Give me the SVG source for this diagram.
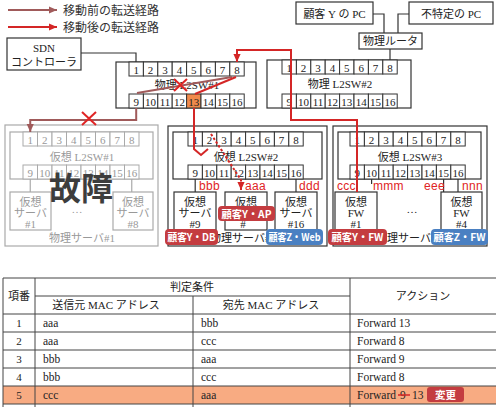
<svg xmlns="http://www.w3.org/2000/svg" width="496" height="407" viewBox="0 0 496 407">
<defs>
<marker id="ahb" viewBox="0 0 10 10" refX="10" refY="5" markerWidth="9" markerHeight="8" markerUnits="userSpaceOnUse" orient="auto"><path d="M0,0.5 L10,5 L0,9.5 z" fill="#a05a5a"/></marker>
<marker id="ahr" viewBox="0 0 10 10" refX="10" refY="5" markerWidth="9" markerHeight="8" markerUnits="userSpaceOnUse" orient="auto"><path d="M0,0.5 L10,5 L0,9.5 z" fill="#d42626"/></marker>
</defs>
<style>
.bx{fill:#fff;stroke:#333;stroke-width:1.2}
.pt{fill:#fff;stroke:#333;stroke-width:1}
.gx{fill:#fff;stroke:#aaa;stroke-width:1.2}
.gp{fill:#fff;stroke:#aaa;stroke-width:1}
.ln{fill:none;stroke:#333;stroke-width:1.2}
.gl{fill:none;stroke:#aaa;stroke-width:1.2}
.t{font-family:"Liberation Serif","Noto Sans CJK JP",serif;font-size:11px;fill:#222;text-anchor:middle}
.tg{font-family:"Liberation Serif","Noto Sans CJK JP",serif;font-size:11px;fill:#999;text-anchor:middle}
.tl{font-family:"Liberation Serif","Noto Sans CJK JP",serif;font-size:11.5px;fill:#222}
.lg{font-family:"Noto Sans CJK JP",sans-serif;font-size:12px;fill:#333}
.mac{font-family:"Liberation Sans",sans-serif;font-size:12px;fill:#e02424;letter-spacing:0.3px}
.bd{font-family:"Noto Sans CJK JP","Liberation Sans",sans-serif;font-size:10.5px;fill:#fff;text-anchor:middle;font-weight:bold}
.rb{fill:#c43c40}
.bb{fill:#4a80c2}
.red{fill:none;stroke:#d42626;stroke-width:2}
.brn{fill:none;stroke:#a05a5a;stroke-width:2}
.tb{stroke:#444;stroke-width:1}
</style>

<g id="legend">
<line x1="8" y1="10" x2="57" y2="10" class="brn" marker-end="url(#ahb)"/>
<text x="63" y="14.5" class="lg">移動前の転送経路</text>
<line x1="8" y1="27" x2="57" y2="27" class="red" marker-end="url(#ahr)"/>
<text x="63" y="31.5" class="lg">移動後の転送経路</text>
</g>

<g id="sdn">
<rect x="7" y="38" width="74" height="32" class="bx"/>
<text x="44" y="52" class="t">SDN</text>
<text x="44" y="66" class="t">コントローラ</text>
</g>

<g id="pc-y">
<rect x="296" y="2" width="77" height="22" class="bx"/>
<text x="334.5" y="17.5" class="t">顧客 Y の PC</text>
</g>
<g id="pc-any">
<rect x="409" y="2" width="84" height="22" class="bx"/>
<text x="451" y="17.5" class="t">不特定の PC</text>
</g>
<g id="router">
<rect x="359" y="33" width="63" height="16" class="bx"/>
<text x="390.5" y="45" class="t">物理ルータ</text>
</g>

<g id="pl2sw1">
<rect x="116" y="62" width="140" height="46" class="bx"/>
<text x="187" y="89" class="t">物理 L2SW#1</text>
<g>
<rect x="129" y="62" width="14.4" height="14" class="pt"/><rect x="143.4" y="62" width="14.4" height="14" class="pt"/><rect x="157.8" y="62" width="14.4" height="14" class="pt"/><rect x="172.2" y="62" width="14.4" height="14" class="pt"/><rect x="186.6" y="62" width="14.4" height="14" class="pt"/><rect x="201" y="62" width="14.4" height="14" class="pt"/><rect x="215.4" y="62" width="14.4" height="14" class="pt"/><rect x="229.8" y="62" width="14.4" height="14" class="pt"/>
<rect x="129" y="94" width="14.4" height="14" class="pt"/><rect x="143.4" y="94" width="14.4" height="14" class="pt"/><rect x="157.8" y="94" width="14.4" height="14" class="pt"/><rect x="172.2" y="94" width="14.4" height="14" class="pt"/><rect x="186.6" y="94" width="14.4" height="14" class="pt" style="fill:#f08a4c"/><rect x="201" y="94" width="14.4" height="14" class="pt"/><rect x="215.4" y="94" width="14.4" height="14" class="pt"/><rect x="229.8" y="94" width="14.4" height="14" class="pt"/>
</g>
<text x="136.2" y="73.5" class="t">1</text><text x="150.6" y="73.5" class="t">2</text><text x="165" y="73.5" class="t">3</text><text x="179.4" y="73.5" class="t">4</text><text x="193.8" y="73.5" class="t">5</text><text x="208.2" y="73.5" class="t">6</text><text x="222.6" y="73.5" class="t">7</text><text x="237" y="73.5" class="t">8</text>
<text x="136.2" y="105.5" class="t">9</text><text x="150.6" y="105.5" class="t">10</text><text x="165" y="105.5" class="t">11</text><text x="179.4" y="105.5" class="t">12</text><text x="193.8" y="105.5" class="t">13</text><text x="208.2" y="105.5" class="t">14</text><text x="222.6" y="105.5" class="t">15</text><text x="237" y="105.5" class="t">16</text>
</g>

<g id="pl2sw2">
<rect x="267" y="60" width="144" height="48" class="bx"/>
<text x="340" y="88" class="t">物理 L2SW#2</text>
<g>
<rect x="282" y="60" width="14.4" height="14" class="pt"/><rect x="296.4" y="60" width="14.4" height="14" class="pt"/><rect x="310.8" y="60" width="14.4" height="14" class="pt"/><rect x="325.2" y="60" width="14.4" height="14" class="pt"/><rect x="339.6" y="60" width="14.4" height="14" class="pt"/><rect x="354" y="60" width="14.4" height="14" class="pt"/><rect x="368.4" y="60" width="14.4" height="14" class="pt"/><rect x="382.8" y="60" width="14.4" height="14" class="pt"/>
<rect x="282" y="94" width="14.4" height="14" class="pt"/><rect x="296.4" y="94" width="14.4" height="14" class="pt"/><rect x="310.8" y="94" width="14.4" height="14" class="pt"/><rect x="325.2" y="94" width="14.4" height="14" class="pt"/><rect x="339.6" y="94" width="14.4" height="14" class="pt"/><rect x="354" y="94" width="14.4" height="14" class="pt"/><rect x="368.4" y="94" width="14.4" height="14" class="pt"/><rect x="382.8" y="94" width="14.4" height="14" class="pt"/>
</g>
<text x="289.2" y="71.5" class="t">1</text><text x="303.6" y="71.5" class="t">2</text><text x="318" y="71.5" class="t">3</text><text x="332.4" y="71.5" class="t">4</text><text x="346.8" y="71.5" class="t">5</text><text x="361.2" y="71.5" class="t">6</text><text x="375.6" y="71.5" class="t">7</text><text x="390" y="71.5" class="t">8</text>
<text x="289.2" y="105.5" class="t">9</text><text x="303.6" y="105.5" class="t">10</text><text x="318" y="105.5" class="t">11</text><text x="332.4" y="105.5" class="t">12</text><text x="346.8" y="105.5" class="t">13</text><text x="361.2" y="105.5" class="t">14</text><text x="375.6" y="105.5" class="t">15</text><text x="390" y="105.5" class="t">16</text>
</g>

<g id="pserver1">
<rect x="5" y="125" width="153" height="121" class="gx"/>
<rect x="10" y="132" width="143" height="47" class="gx"/>
<text x="82" y="161" class="tg">仮想 L2SW#1</text>
<g>
<rect x="23" y="132" width="14.5" height="14" class="gp"/><rect x="37.5" y="132" width="14.5" height="14" class="gp"/><rect x="52" y="132" width="14.5" height="14" class="gp"/><rect x="66.5" y="132" width="14.5" height="14" class="gp"/><rect x="81" y="132" width="14.5" height="14" class="gp"/><rect x="95.5" y="132" width="14.5" height="14" class="gp"/><rect x="110" y="132" width="14.5" height="14" class="gp"/><rect x="124.5" y="132" width="14.5" height="14" class="gp"/>
<rect x="23" y="165" width="14.5" height="14" class="gp"/><rect x="37.5" y="165" width="14.5" height="14" class="gp"/><rect x="52" y="165" width="14.5" height="14" class="gp"/><rect x="66.5" y="165" width="14.5" height="14" class="gp"/><rect x="81" y="165" width="14.5" height="14" class="gp"/><rect x="95.5" y="165" width="14.5" height="14" class="gp"/><rect x="110" y="165" width="14.5" height="14" class="gp"/><rect x="124.5" y="165" width="14.5" height="14" class="gp"/>
</g>
<text x="30.25" y="143.5" class="tg">1</text><text x="44.75" y="143.5" class="tg">2</text><text x="59.25" y="143.5" class="tg">3</text><text x="73.75" y="143.5" class="tg">4</text><text x="88.25" y="143.5" class="tg">5</text><text x="102.75" y="143.5" class="tg">6</text><text x="117.25" y="143.5" class="tg">7</text><text x="131.75" y="143.5" class="tg">8</text>
<text x="30.25" y="176.5" class="tg">9</text><text x="44.75" y="176.5" class="tg">10</text><text x="59.25" y="176.5" class="tg">11</text><text x="73.75" y="176.5" class="tg">12</text><text x="88.25" y="176.5" class="tg">13</text><text x="102.75" y="176.5" class="tg">14</text><text x="117.25" y="176.5" class="tg">15</text><text x="131.75" y="176.5" class="tg">16</text>
<line x1="30.25" y1="179" x2="30.25" y2="192" class="gl"/>
<line x1="131.75" y1="179" x2="131.75" y2="192" class="gl"/>
<rect x="10" y="192" width="41" height="38" class="gx"/>
<text x="30.5" y="206" class="tg">仮想</text><text x="30.5" y="217" class="tg">サーバ</text><text x="30.5" y="228" class="tg">#1</text>
<rect x="113" y="192" width="40" height="38" class="gx"/>
<text x="133" y="206" class="tg">仮想</text><text x="133" y="217" class="tg">サーバ</text><text x="133" y="228" class="tg">#8</text>
<text x="77" y="213" class="tg">…</text>
<text x="82" y="242" class="tg">物理サーバ#1</text>
<text x="81" y="200" style="font-family:'Noto Sans CJK JP',sans-serif;font-size:32px;font-weight:bold;fill:#3d3d3d;text-anchor:middle">故障</text>
</g>

<g id="pserver2">
<rect x="168" y="126" width="159" height="120" class="bx"/>
<rect x="173" y="132" width="149" height="47" class="bx"/>
<text x="246" y="161" class="t">仮想 L2SW#2</text>
<g>
<rect x="188" y="132" width="14.4" height="14" class="pt"/><rect x="202.4" y="132" width="14.4" height="14" class="pt"/><rect x="216.8" y="132" width="14.4" height="14" class="pt"/><rect x="231.2" y="132" width="14.4" height="14" class="pt"/><rect x="245.6" y="132" width="14.4" height="14" class="pt"/><rect x="260" y="132" width="14.4" height="14" class="pt"/><rect x="274.4" y="132" width="14.4" height="14" class="pt"/><rect x="288.8" y="132" width="14.4" height="14" class="pt"/>
<rect x="188" y="165" width="14.4" height="14" class="pt"/><rect x="202.4" y="165" width="14.4" height="14" class="pt"/><rect x="216.8" y="165" width="14.4" height="14" class="pt"/><rect x="231.2" y="165" width="14.4" height="14" class="pt"/><rect x="245.6" y="165" width="14.4" height="14" class="pt"/><rect x="260" y="165" width="14.4" height="14" class="pt"/><rect x="274.4" y="165" width="14.4" height="14" class="pt"/><rect x="288.8" y="165" width="14.4" height="14" class="pt"/>
</g>
<text x="195.2" y="143.5" class="t">1</text><text x="209.6" y="143.5" class="t">2</text><text x="224" y="143.5" class="t">3</text><text x="238.4" y="143.5" class="t">4</text><text x="252.8" y="143.5" class="t">5</text><text x="267.2" y="143.5" class="t">6</text><text x="281.6" y="143.5" class="t">7</text><text x="296" y="143.5" class="t">8</text>
<text x="195.2" y="176.5" class="t">9</text><text x="209.6" y="176.5" class="t">10</text><text x="224" y="176.5" class="t">11</text><text x="238.4" y="176.5" class="t">12</text><text x="252.8" y="176.5" class="t">13</text><text x="267.2" y="176.5" class="t">14</text><text x="281.6" y="176.5" class="t">15</text><text x="296" y="176.5" class="t">16</text>
<line x1="195.2" y1="179" x2="195.2" y2="192" class="ln"/>
<line x1="296" y1="179" x2="296" y2="192" class="ln"/>
<text x="243" y="242" class="t">物理サーバ#2</text>
</g>
<g id="vs9">
<rect x="174" y="192" width="42" height="38" class="bx"/>
<text x="195" y="206" class="t">仮想</text><text x="195" y="217" class="t">サーバ</text><text x="195" y="228" class="t">#9</text>
</g>
<g id="vsap">
<rect x="225" y="192" width="42" height="38" class="bx"/>
<text x="246" y="206" class="t">仮想</text><text x="243" y="228" class="t">#</text>
</g>
<g id="vs16">
<rect x="275" y="192" width="42" height="38" class="bx"/>
<text x="296" y="206" class="t">仮想</text><text x="296" y="217" class="t">サーバ</text><text x="296" y="228" class="t">#16</text>
</g>

<g id="pserver3">
<rect x="333" y="126" width="154" height="120" class="bx"/>
<rect x="338" y="132" width="143" height="47" class="bx"/>
<text x="410" y="161" class="t">仮想 L2SW#3</text>
<g>
<rect x="350" y="132" width="14.4" height="14" class="pt"/><rect x="364.4" y="132" width="14.4" height="14" class="pt"/><rect x="378.8" y="132" width="14.4" height="14" class="pt"/><rect x="393.2" y="132" width="14.4" height="14" class="pt"/><rect x="407.6" y="132" width="14.4" height="14" class="pt"/><rect x="422" y="132" width="14.4" height="14" class="pt"/><rect x="436.4" y="132" width="14.4" height="14" class="pt"/><rect x="450.8" y="132" width="14.4" height="14" class="pt"/>
<rect x="350" y="165" width="14.4" height="14" class="pt"/><rect x="364.4" y="165" width="14.4" height="14" class="pt"/><rect x="378.8" y="165" width="14.4" height="14" class="pt"/><rect x="393.2" y="165" width="14.4" height="14" class="pt"/><rect x="407.6" y="165" width="14.4" height="14" class="pt"/><rect x="422" y="165" width="14.4" height="14" class="pt"/><rect x="436.4" y="165" width="14.4" height="14" class="pt"/><rect x="450.8" y="165" width="14.4" height="14" class="pt"/>
</g>
<text x="357.2" y="143.5" class="t">1</text><text x="371.6" y="143.5" class="t">2</text><text x="386" y="143.5" class="t">3</text><text x="400.4" y="143.5" class="t">4</text><text x="414.8" y="143.5" class="t">5</text><text x="429.2" y="143.5" class="t">6</text><text x="443.6" y="143.5" class="t">7</text><text x="458" y="143.5" class="t">8</text>
<text x="357.2" y="176.5" class="t">9</text><text x="371.6" y="176.5" class="t">10</text><text x="386" y="176.5" class="t">11</text><text x="400.4" y="176.5" class="t">12</text><text x="414.8" y="176.5" class="t">13</text><text x="429.2" y="176.5" class="t">14</text><text x="443.6" y="176.5" class="t">15</text><text x="458" y="176.5" class="t">16</text>
<line x1="371.6" y1="179" x2="371.6" y2="184" class="ln"/>
<line x1="443.6" y1="179" x2="443.6" y2="192" class="ln"/>
<line x1="458" y1="179" x2="458" y2="192" class="ln"/>
<text x="412" y="213" class="t">…</text>
<text x="409" y="242" class="t">物理サーバ#3</text>
</g>
<g id="vfw1">
<rect x="335" y="192" width="42" height="38" class="bx"/>
<text x="356" y="206" class="t">仮想</text><text x="356" y="217" class="t">FW</text><text x="356" y="228" class="t">#1</text>
</g>
<g id="vfw4">
<rect x="441" y="192" width="41" height="38" class="bx"/>
<text x="461.5" y="206" class="t">仮想</text><text x="461.5" y="217" class="t">FW</text><text x="461.5" y="228" class="t">#4</text>
</g>

<g id="connectors">
<polyline points="81,53 136,53 136,62" class="ln"/>
<polyline points="373,14 384,14 384,33" class="ln"/>
<polyline points="409,14 398,14 398,33" class="ln"/>
<line x1="390" y1="49" x2="390" y2="60" class="ln"/>
<line x1="232" y1="77" x2="137" y2="93" class="brn"/>
<polyline points="136.2,108 136.2,120 30.25,120 30.25,132" class="brn" marker-end="url(#ahb)"/>
<line x1="236" y1="77" x2="195" y2="94" class="red"/>
<polyline points="357,192 357,120 291,120 291,50 237,50 237,62" class="red" marker-end="url(#ahr)"/>
<polyline points="194,108 194,149 201,155 208,149" class="red"/>
<polyline points="211,134 241,180 241,190" style="fill:none;stroke:#d42626;stroke-width:2;stroke-dasharray:2.5,2" marker-end="url(#ahr)"/>
<g stroke="#e02424" stroke-width="2">
<line x1="174" y1="79" x2="187" y2="91"/><line x1="187" y1="79" x2="174" y2="91"/>
<line x1="82" y1="112" x2="96" y2="125"/><line x1="96" y1="112" x2="82" y2="125"/>
</g>
</g>

<g id="mac-labels">
<text x="199" y="190" class="mac">bbb</text>
<text x="245" y="190" class="mac">aaa</text>
<text x="299" y="190" class="mac">ddd</text>
<text x="337" y="190" class="mac">ccc</text>
<text x="373" y="190" class="mac">mmm</text>
<text x="424" y="190" class="mac">eee</text>
<text x="462" y="190" class="mac">nnn</text>
</g>

<g id="badges">
<rect x="165" y="229" width="53" height="16" rx="4" class="rb"/><text x="191.5" y="241" class="bd" textLength="48" lengthAdjust="spacingAndGlyphs">顧客Y・DB</text>
<rect x="218" y="206" width="57" height="15" rx="4" class="rb"/><text x="246.5" y="217.5" class="bd" textLength="50" lengthAdjust="spacingAndGlyphs">顧客Y・AP</text>
<rect x="266" y="229" width="57" height="16" rx="4" class="bb"/><text x="294.5" y="241" class="bd" textLength="52" lengthAdjust="spacingAndGlyphs">顧客Z・Web</text>
<rect x="328" y="229" width="59" height="16" rx="4" class="rb"/><text x="357.5" y="241" class="bd" textLength="52" lengthAdjust="spacingAndGlyphs">顧客Y・FW</text>
<rect x="431" y="229" width="57" height="16" rx="4" class="bb"/><text x="459.5" y="241" class="bd" textLength="52" lengthAdjust="spacingAndGlyphs">顧客Z・FW</text>
</g>

<g id="table">
<rect x="3" y="386" width="493" height="18" fill="#f8ab82"/>
<line x1="3" y1="278" x2="496" y2="278" class="tb" stroke-width="1.4"/>
<line x1="35" y1="296" x2="350" y2="296" class="tb"/>
<line x1="3" y1="314" x2="496" y2="314" class="tb"/>
<line x1="3" y1="332" x2="496" y2="332" class="tb"/>
<line x1="3" y1="350" x2="496" y2="350" class="tb"/>
<line x1="3" y1="368" x2="496" y2="368" class="tb"/>
<line x1="3" y1="386" x2="496" y2="386" class="tb"/>
<line x1="3" y1="404" x2="496" y2="404" class="tb"/>
<line x1="3" y1="278" x2="3" y2="407" class="tb" stroke-width="1.4"/>
<line x1="35" y1="278" x2="35" y2="407" class="tb"/>
<line x1="193" y1="296" x2="193" y2="407" class="tb"/>
<line x1="350" y1="278" x2="350" y2="407" class="tb"/>
<text x="19" y="300" class="t">項番</text>
<text x="192" y="291" class="t">判定条件</text>
<text x="106" y="309" class="t">送信元 MAC アドレス</text>
<text x="271" y="309" class="t">宛先 MAC アドレス</text>
<text x="423" y="300" class="t">アクション</text>
<text x="19" y="327" class="t">1</text><text x="43" y="327" class="tl">aaa</text><text x="201" y="327" class="tl">bbb</text><text x="357" y="327" class="tl">Forward 13</text>
<text x="19" y="345" class="t">2</text><text x="43" y="345" class="tl">aaa</text><text x="201" y="345" class="tl">ccc</text><text x="357" y="345" class="tl">Forward 8</text>
<text x="19" y="363" class="t">3</text><text x="43" y="363" class="tl">bbb</text><text x="201" y="363" class="tl">aaa</text><text x="357" y="363" class="tl">Forward 9</text>
<text x="19" y="381" class="t">4</text><text x="43" y="381" class="tl">bbb</text><text x="201" y="381" class="tl">ccc</text><text x="357" y="381" class="tl">Forward 8</text>
<text x="19" y="399" class="t">5</text><text x="43" y="399" class="tl">ccc</text><text x="201" y="399" class="tl">aaa</text>
<text x="357" y="399" class="tl">Forward</text><text x="400" y="399" class="tl">9</text><text x="412" y="399" class="tl">13</text>
<line x1="398" y1="395" x2="410" y2="395" stroke="#d42626" stroke-width="1.5"/>
<rect x="427" y="387" width="37" height="15" rx="3" class="rb"/><text x="445.5" y="398.5" class="bd">変更</text>
</g>
</svg>
